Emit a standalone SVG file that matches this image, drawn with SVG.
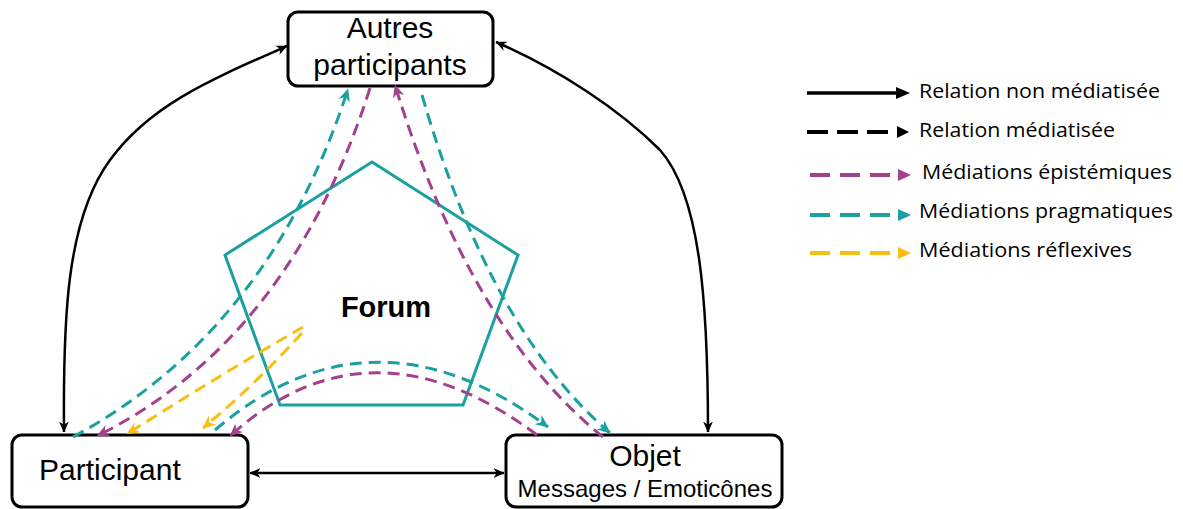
<svg xmlns="http://www.w3.org/2000/svg" width="1183" height="509" viewBox="0 0 1183 509">
<style>
.node{fill:#fff;stroke:#000;stroke-width:3}
.lbl{font-family:"Liberation Sans",Arial,sans-serif;fill:#000}
.blk{fill:none;stroke:#000;stroke-width:2.5}
.dt{fill:none;stroke:#1BA0A0;stroke-width:3;stroke-dasharray:12 7}
.dp{fill:none;stroke:#A3418F;stroke-width:3;stroke-dasharray:12 7}
.dy{fill:none;stroke:#F9BE14;stroke-width:3;stroke-dasharray:12 7}
.leg{font-family:"Open Sans","Liberation Sans",sans-serif;font-size:20px;fill:#000}
</style>
<defs>
<marker id="ab" viewBox="0 0 10 10" refX="9.5" refY="5" markerWidth="11" markerHeight="11" markerUnits="userSpaceOnUse" orient="auto-start-reverse"><path d="M0,0.5 L10,5 L0,9.5 L3,5 z" fill="#000"/></marker>
<marker id="at" viewBox="0 0 10 10" refX="9.5" refY="5" markerWidth="13" markerHeight="13" markerUnits="userSpaceOnUse" orient="auto"><path d="M0,0.5 L10,5 L0,9.5 L3,5 z" fill="#1BA0A0"/></marker>
<marker id="ap" viewBox="0 0 10 10" refX="9.5" refY="5" markerWidth="13" markerHeight="13" markerUnits="userSpaceOnUse" orient="auto"><path d="M0,0.5 L10,5 L0,9.5 L3,5 z" fill="#A3418F"/></marker>
<marker id="ay" viewBox="0 0 10 10" refX="9.5" refY="5" markerWidth="13" markerHeight="13" markerUnits="userSpaceOnUse" orient="auto"><path d="M0,0.5 L10,5 L0,9.5 L3,5 z" fill="#F9BE14"/></marker>
</defs>
<rect width="1183" height="509" fill="#fff"/>

<g id="forum">
<polygon points="372,162 518,255 463,405 280,405 225,255" fill="none" stroke="#1BA0A0" stroke-width="3"/>
<text class="lbl" x="386" y="317" font-size="29" font-weight="bold" text-anchor="middle">Forum</text>
</g>

<g id="autres">
<rect class="node" x="288" y="12" width="205" height="74" rx="10"/>
<text class="lbl" x="390" y="38" font-size="30" text-anchor="middle">Autres</text>
<text class="lbl" x="390" y="75" font-size="30" text-anchor="middle">participants</text>
</g>

<g id="participant">
<rect class="node" x="12" y="435" width="236" height="72" rx="10"/>
<text class="lbl" x="39" y="480" font-size="30">Participant</text>
</g>

<g id="objet">
<rect class="node" x="506" y="435" width="276" height="72" rx="10"/>
<text class="lbl" x="645" y="466" font-size="30" text-anchor="middle">Objet</text>
<text class="lbl" x="645" y="497" font-size="24" text-anchor="middle">Messages / Emoticônes</text>
</g>

<g id="connectors">
<path class="blk" d="M64,432 C63,320 66,220 110,160 C150,105 210,80 287,46" marker-start="url(#ab)" marker-end="url(#ab)"/>
<path class="blk" d="M496,42 C560,70 620,110 660,150 C700,195 708,300 708,432" marker-start="url(#ab)" marker-end="url(#ab)"/>
<path class="blk" d="M250,473 L504,473" marker-start="url(#ab)" marker-end="url(#ab)"/>

<path class="dt" d="M73,437 Q270,330 348,89" marker-end="url(#at)"/>
<path class="dp" d="M370,88 Q290,340 97,436" marker-end="url(#ap)"/>
<path class="dy" d="M303,327 Q220,375 127,434" marker-end="url(#ay)"/>
<path class="dy" d="M302,333 Q255,385 203,428" marker-end="url(#ay)"/>
<path class="dt" d="M215,430 Q372,296 548,427" marker-end="url(#at)"/>
<path class="dp" d="M537,435 Q370,310 230,436" marker-end="url(#ap)"/>
<path class="dp" d="M603,437 Q470,330 395,85" marker-end="url(#ap)"/>
<path class="dt" d="M422,95 Q490,330 610,433" marker-end="url(#at)"/>
</g>

<g id="legend">
<line x1="807" y1="93" x2="900" y2="93" stroke="#000" stroke-width="3.5"/>
<polygon points="896,87 910,93 896,99" fill="#000"/>
<text class="leg" x="919" y="98" textLength="241" lengthAdjust="spacingAndGlyphs">Relation non médiatisée</text>

<line x1="807" y1="132" x2="888" y2="132" stroke="#000" stroke-width="4" stroke-dasharray="21 9"/>
<polygon points="897,126 909,132 897,138" fill="#000"/>
<text class="leg" x="919" y="137" textLength="196" lengthAdjust="spacingAndGlyphs">Relation médiatisée</text>

<line x1="810" y1="175" x2="890" y2="175" stroke="#A3418F" stroke-width="4" stroke-dasharray="20 10"/>
<polygon points="898,169 911,175 898,181" fill="#A3418F"/>
<text class="leg" x="922" y="179" textLength="250" lengthAdjust="spacingAndGlyphs">Médiations épistémiques</text>

<line x1="810" y1="215" x2="890" y2="215" stroke="#1BA0A0" stroke-width="4" stroke-dasharray="20 10"/>
<polygon points="898,209 911,215 898,221" fill="#1BA0A0"/>
<text class="leg" x="919" y="218" textLength="254" lengthAdjust="spacingAndGlyphs">Médiations pragmatiques</text>

<line x1="810" y1="253" x2="890" y2="253" stroke="#F9BE14" stroke-width="4" stroke-dasharray="20 10"/>
<polygon points="898,247 911,253 898,259" fill="#F9BE14"/>
<text class="leg" x="919" y="257" textLength="213" lengthAdjust="spacingAndGlyphs">Médiations réflexives</text>
</g>
</svg>
